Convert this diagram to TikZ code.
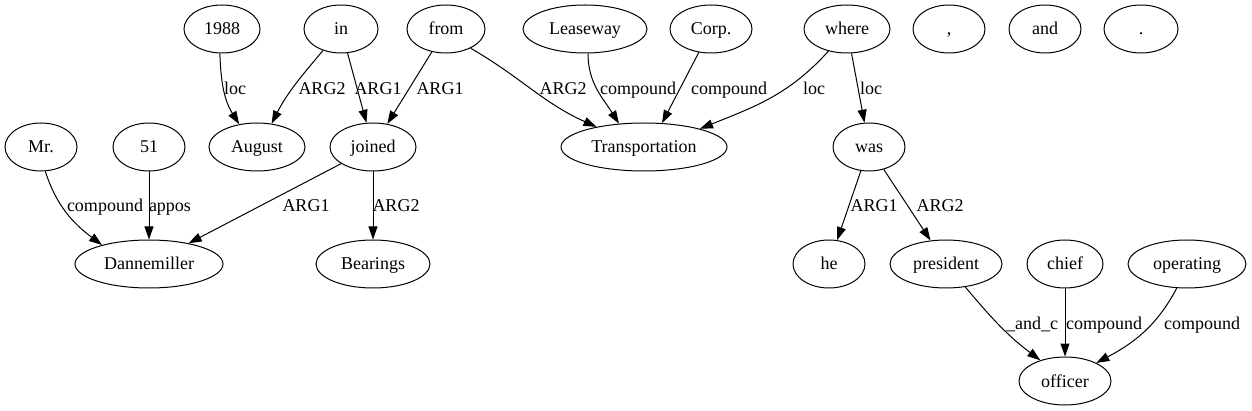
\documentclass[tikz,border=0pt]{standalone}
\usepackage{fontspec}
\setmainfont{Liberation Serif}
\usetikzlibrary{shapes.geometric,arrows.meta}
\begin{document}
\begin{tikzpicture}[x=1pt,y=1pt,
  nd/.style={ellipse, draw, line width=1pt, inner sep=0pt, minimum height=48pt,
    text height=14pt, text depth=2pt, font=\fontsize{18pt}{20pt}\selectfont},
  arr/.style={-{Triangle[length=13pt,width=9pt]}, line width=1pt},
  lbl/.style={anchor=base, inner sep=0pt, font=\fontsize{18pt}{20pt}\selectfont}]
\fill[white] (0,0) rectangle (1252,-411);
\useasboundingbox (0,0) rectangle (1252,-411);
% row 1
\node[nd, minimum width=76pt] (n1988) at (222,-29) {1988};
\node[nd, minimum width=74pt] (nIn) at (341,-29) {in};
\node[nd, minimum width=78pt] (from) at (446,-29) {from};
\node[nd, minimum width=124pt] (Leaseway) at (585,-29) {Leaseway};
\node[nd, minimum width=82pt] (Corp) at (711,-29) {Corp.};
\node[nd, minimum width=86pt] (where) at (847,-29) {where};
\node[nd, minimum width=72pt] (comma) at (949,-29) {,};
\node[nd, minimum width=72pt] (and) at (1045,-29) {and};
\node[nd, minimum width=74pt] (period) at (1141,-29) {.};
% row 2
\node[nd, minimum width=72pt] (Mr) at (41,-147) {Mr.};
\node[nd, minimum width=72pt] (n51) at (149,-147) {51};
\node[nd, minimum width=96pt] (August) at (257,-147) {August};
\node[nd, minimum width=86pt] (joined) at (373,-147) {joined};
\node[nd, minimum width=166pt] (Transportation) at (644,-147) {Transportation};
\node[nd, minimum width=72pt] (was) at (869,-147) {was};
% row 3
\node[nd, minimum width=148pt] (Dannemiller) at (149,-264) {Dannemiller};
\node[nd, minimum width=114pt] (Bearings) at (373,-264) {Bearings};
\node[nd, minimum width=72pt] (he) at (829,-264) {he};
\node[nd, minimum width=112pt] (president) at (946,-264) {president};
\node[nd, minimum width=76pt] (chief) at (1065,-264) {chief};
\node[nd, minimum width=118pt] (operating) at (1187,-264) {operating};
% row 4
\node[nd, minimum width=92pt] (officer) at (1065,-381) {officer};
% edges
\draw[arr] (n1988.-95) to[out=-88,in=122] (August.128);
\draw[arr] (nIn.-130) to[out=-130,in=63] (August.58);
\draw[arr] (nIn) -- (joined);
\draw[arr] (from) -- (joined);
\draw[arr] (from.-38) to[out=-30,in=156] (Transportation.157);
\draw[arr] (Leaseway.-83) to[out=-90,in=122] (Transportation.137);
\draw[arr] (Corp) -- (Transportation.53);
\draw[arr] (where.-130) to[out=-132,in=22] (Transportation.18);
\draw[arr] (where) -- (was);
\draw[arr] (Mr.-80) to[out=-72,in=143] (Dannemiller.158);
\draw[arr] (n51) -- (Dannemiller);
\draw[arr] (joined) -- (Dannemiller);
\draw[arr] (joined) -- (Bearings);
\draw[arr] (was) -- (he);
\draw[arr] (was) -- (president);
\draw[arr] (president.-50) to[out=-50,in=143] (officer.140);
\draw[arr] (chief) -- (officer);
\draw[arr] (operating.-113) to[out=-118,in=28] (officer.30);
% labels
\node[lbl] (l1) at (235,-94.5) {loc};
\node[lbl] (l2) at (322,-94.5) {ARG2};
\node[lbl] (l3) at (378,-94.5) {ARG1};
\node[lbl] (l4) at (440,-94.5) {ARG1};
\node[lbl] (l5) at (563,-94.5) {ARG2};
\node[lbl] (l6) at (638,-94.5) {compound};
\node[lbl] (l7) at (729,-94.5) {compound};
\node[lbl] (l8) at (814,-94.5) {loc};
\node[lbl] (l9) at (871,-94.5) {loc};
\node[lbl] (l10) at (105,-212) {compound};
\node[lbl] (l11) at (170,-212) {appos};
\node[lbl] (l12) at (306,-212) {ARG1};
\node[lbl] (l13) at (396,-212) {ARG2};
\node[lbl] (l14) at (874,-212) {ARG1};
\node[lbl] (l15) at (940,-212) {ARG2};
\node[lbl] (l16) at (1032,-329.5) {\_and\_c};
\node[lbl] (l17) at (1104,-329.5) {compound};
\node[lbl] (l18) at (1202,-329.5) {compound};
\end{tikzpicture}
\end{document}
